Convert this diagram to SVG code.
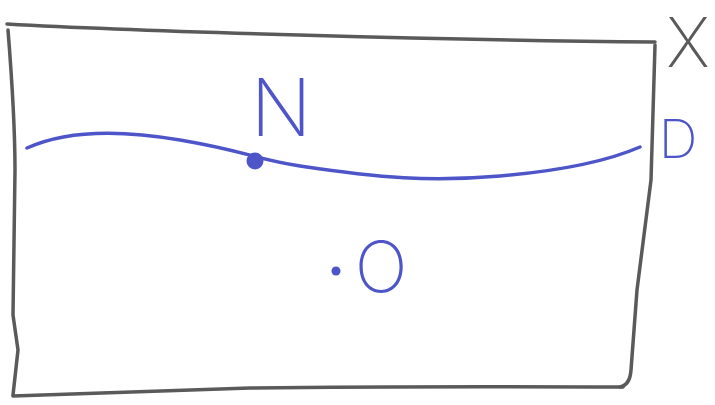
<svg xmlns="http://www.w3.org/2000/svg" width="715" height="405" viewBox="0 0 715 405">
<style>
.frame{fill:none;stroke:#5a5a5a;stroke-width:3.5;stroke-linecap:round;stroke-linejoin:round}
.blue{fill:none;stroke:#4d55c9;stroke-width:3.5;stroke-linecap:round;stroke-linejoin:round}
.lbl{font-family:Inter,"Liberation Sans",sans-serif;font-weight:200;text-anchor:middle}
.lb{fill:#4d55c9}
.lg{fill:#5a5a5a}
</style>
<rect width="715" height="405" fill="#ffffff"/>
<g id="space-X">
<path class="frame" d="M7,24 C150,32 450,40 655,42"/>
<path class="frame" d="M655,45 L651,180 L637,290 L631,370 Q630,385 620,387"/>
<path class="frame" d="M623,387 Q400,386 250,388 L13,396"/>
<path class="frame" d="M8,30 C12,80 15,130 15,170 L13,315 L18,350 L13,395"/>
<text class="lbl lg" x="688" y="67" font-size="68">X</text>
</g>
<g id="curve-D">
<path class="blue" d="M27,148 C60,133 110,128 180,140 S250,158 300,166 C380,178 430,182 500,176 S610,160 640,147"/>
<text class="lbl lb" x="678" y="158" font-size="54">D</text>
</g>
<g id="point-N">
<circle cx="255" cy="161" r="8.5" fill="#4d55c9"/>
<text class="lbl lb" x="281" y="136" font-size="80">N</text>
</g>
<g id="point-O">
<circle cx="336" cy="271" r="4.5" fill="#4d55c9"/>
<text class="lbl lb" x="381" y="292" font-size="70">O</text>
</g>
</svg>
